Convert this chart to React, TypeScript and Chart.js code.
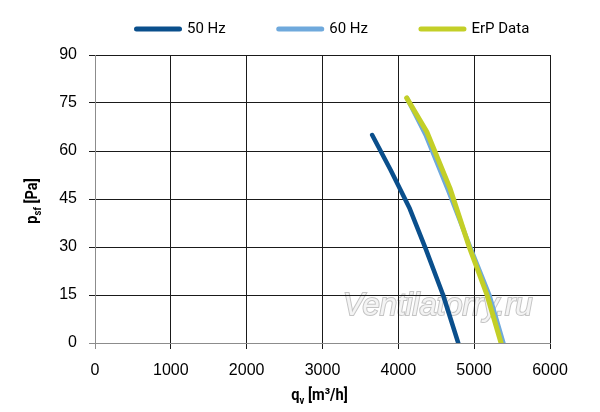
import React, { useEffect, useRef } from 'react';
import { Chart, registerables } from 'chart.js';

Chart.register(...registerables);

// ---- data ----
const flow50Hz = [3655, 3900, 4150, 4360, 4590, 4790];
const pressure50Hz = [65, 54, 42, 29.5, 15, 0];

const flow60Hz = [4115, 4360, 4660, 4930, 5200, 5385];
const pressure60Hz = [76.5, 65, 47.5, 31, 15, 0];

const flowErp = [4110, 4375, 4680, 4935, 5170, 5355];
const pressureErp = [76.6, 66, 48.4, 30, 15, 0];

const seriesLabels = ['50 Hz', '60 Hz', 'ErP Data'];
const xTickValues = [0, 1000, 2000, 3000, 4000, 5000, 6000];
const yTickValues = [0, 15, 30, 45, 60, 75, 90];

const xTitleMain = 'q';
const xTitleSub = 'v';
const xTitleRest = ' [m³/h]';
const yTitleMain = 'p';
const yTitleSub = 'sf';
const yTitleRest = ' [Pa]';
const watermarkText = 'Ventilatorry.ru';

// ---- styles ----
const COLOR_50 = '#0a4f8c';
const COLOR_60 = '#6fa9dc';
const COLOR_ERP = '#c3cf27';
const GRID = '#1a1a1a';
const AXIS = '#8c8c8c';
const TICK_FONT = '"Liberation Sans", Arial, sans-serif';
const LABEL_FONT = 'Roboto, "Noto Sans", sans-serif';
const LEGEND_PAD = 53;

const toPoints = (xs: number[], ys: number[]) => xs.map((x, i) => ({ x, y: ys[i] }));

function drawParts(
  ctx: CanvasRenderingContext2D,
  parts: { text: string; font: string; dy: number }[],
  cx: number,
  cy: number,
  squeeze: number
) {
  ctx.textAlign = 'left';
  ctx.textBaseline = 'alphabetic';
  const widths = parts.map((p) => {
    ctx.font = p.font;
    return ctx.measureText(p.text).width;
  });
  const total = widths.reduce((a, b) => a + b, 0);
  ctx.save();
  ctx.translate(cx, cy);
  ctx.scale(squeeze, 1);
  let x = -total / 2;
  parts.forEach((p, i) => {
    ctx.font = p.font;
    ctx.fillText(p.text, x, p.dy);
    x += widths[i];
  });
  ctx.restore();
}

const decorPlugin = {
  id: 'decor',
  afterLayout(chart: any) {
    const lg = chart.legend;
    if (lg) {
      const h = lg.height;
      lg.left = 136.5 - LEGEND_PAD;
      lg.right = 900;
      lg.top = 29 - 7.5 - LEGEND_PAD;
      lg.bottom = lg.top + h;
    }
  },
  beforeDraw(chart: any) {
    const { ctx, chartArea } = chart;
    ctx.save();
    ctx.font = `italic 31px ${TICK_FONT}`;
    ctx.textAlign = 'left';
    ctx.textBaseline = 'alphabetic';
    const x = chartArea.left + 248;
    const y = chartArea.bottom - 28;
    ctx.lineWidth = 2;
    ctx.strokeStyle = 'rgba(190,190,190,0.9)';
    ctx.strokeText(watermarkText, x, y);
    ctx.fillStyle = '#f4f4f4';
    ctx.fillText(watermarkText, x, y);
    ctx.restore();
  },
  afterDraw(chart: any) {
    const { ctx, chartArea } = chart;
    const main = `bold 17px ${LABEL_FONT}`;
    const sub = `bold 11px ${LABEL_FONT}`;
    ctx.save();
    ctx.fillStyle = '#000';
    drawParts(
      ctx,
      [
        { text: xTitleMain, font: main, dy: 0 },
        { text: xTitleSub, font: sub, dy: 4 },
        { text: xTitleRest, font: main, dy: 0 },
      ],
      (chartArea.left + chartArea.right) / 2 - 3,
      400,
      0.86
    );
    ctx.translate(37, (chartArea.top + chartArea.bottom) / 2 + 2);
    ctx.rotate(-Math.PI / 2);
    drawParts(
      ctx,
      [
        { text: yTitleMain, font: main, dy: 0 },
        { text: yTitleSub, font: sub, dy: 4 },
        { text: yTitleRest, font: main, dy: 0 },
      ],
      0,
      0,
      0.86
    );
    ctx.restore();
  },
};

export default function App() {
  const canvasRef = useRef<HTMLCanvasElement | null>(null);

  useEffect(() => {
    if (!canvasRef.current) return;
    const gridColor = (c: any) => (c.tick && c.tick.value === 0 ? 'rgba(0,0,0,0)' : GRID);
    const tickColor = (c: any) => (c.tick && c.tick.value === 0 ? AXIS : GRID);
    const chart = new Chart(canvasRef.current, {
      type: 'line',
      data: {
        datasets: [
          {
            label: seriesLabels[0],
            data: toPoints(flow50Hz, pressure50Hz),
            borderColor: COLOR_50,
            backgroundColor: COLOR_50,
            borderWidth: 4.5,
            order: 2,
          },
          {
            label: seriesLabels[1],
            data: toPoints(flow60Hz, pressure60Hz),
            borderColor: COLOR_60,
            backgroundColor: COLOR_60,
            borderWidth: 4.5,
            order: 1,
          },
          {
            label: seriesLabels[2],
            data: toPoints(flowErp, pressureErp),
            borderColor: COLOR_ERP,
            backgroundColor: COLOR_ERP,
            borderWidth: 5,
            order: 0,
          },
        ] as any,
      },
      options: {
        responsive: false,
        animation: false,
        layout: { padding: { top: 55 - (15 + LEGEND_PAD + 10), right: 50, bottom: 0, left: 0 } },
        elements: {
          point: { radius: 0, hoverRadius: 0 },
          line: { tension: 0, borderCapStyle: 'round', borderJoinStyle: 'round', fill: false },
        },
        plugins: {
          tooltip: { enabled: false },
          title: { display: false },
          legend: {
            display: true,
            position: 'top',
            align: 'start',
            labels: {
              usePointStyle: true,
              pointStyleWidth: 43,
              boxHeight: 15,
              padding: LEGEND_PAD,
              color: '#000',
              font: { family: LABEL_FONT, size: 15 },
              generateLabels: (chart: any) =>
                chart.data.datasets.map((ds: any, i: number) => ({
                  text: ds.label,
                  fillStyle: ds.borderColor,
                  strokeStyle: ds.borderColor,
                  lineWidth: 5,
                  lineCap: 'round',
                  pointStyle: 'line',
                  hidden: false,
                  datasetIndex: i,
                  fontColor: '#000',
                })),
            },
          },
        },
        scales: {
          x: {
            type: 'linear',
            min: 0,
            max: 6000,
            afterBuildTicks: (s: any) => {
              s.ticks = xTickValues.map((v) => ({ value: v }));
            },
            afterFit: (s: any) => {
              s.height = 69;
            },
            ticks: {
              color: '#000',
              padding: 12,
              maxRotation: 0,
              font: { family: TICK_FONT, size: 16 },
              callback: (v: any) => String(v),
            },
            grid: { color: gridColor, tickColor, lineWidth: 1, tickLength: 6 },
            border: { color: AXIS, width: 1 },
          },
          y: {
            type: 'linear',
            min: 0,
            max: 90,
            afterBuildTicks: (s: any) => {
              s.ticks = yTickValues.map((v) => ({ value: v }));
            },
            afterFit: (s: any) => {
              s.width = 95;
            },
            ticks: {
              color: '#000',
              padding: 12,
              font: { family: TICK_FONT, size: 16 },
              callback: (v: any) => String(v),
            },
            grid: { color: gridColor, tickColor, lineWidth: 1, tickLength: 6 },
            border: { color: AXIS, width: 1 },
          },
        },
      } as any,
      plugins: [decorPlugin as any],
    });
    return () => chart.destroy();
  }, []);

  return (
    <div style={{ position: 'absolute', left: 0, top: 0, width: 600, height: 412, background: '#fff' }}>
      <canvas ref={canvasRef} width={600} height={412} style={{ width: 600, height: 412, display: 'block' }} />
    </div>
  );
}
